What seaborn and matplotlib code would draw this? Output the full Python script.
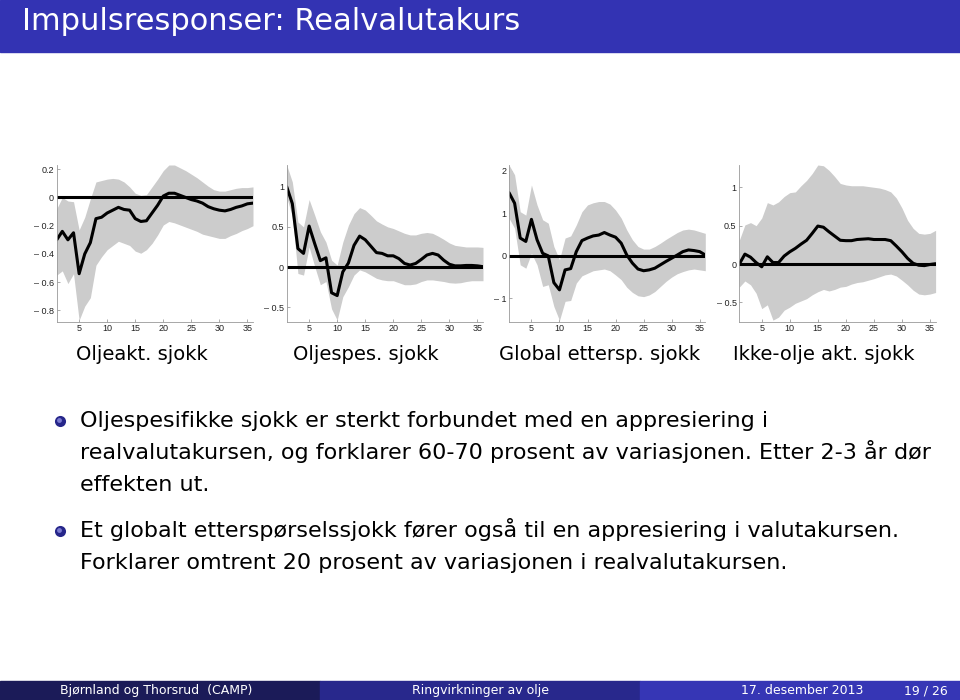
import numpy as np
import pandas as pd
import seaborn as sns
import matplotlib.pyplot as plt
from matplotlib.patches import Rectangle
from matplotlib.lines import Line2D

# %% Data (horizon 1..36)

horizon = list(range(1, 37))

olje_akt_irf = [-0.30, -0.24, -0.30, -0.25, -0.54, -0.40, -0.32, -0.15, -0.14, -0.11,
                -0.09, -0.07, -0.085, -0.09, -0.15, -0.17, -0.165, -0.11, -0.055, 0.01,
                0.03, 0.03, 0.015, 0.0, -0.015, -0.025, -0.04, -0.065, -0.08, -0.09,
                -0.095, -0.085, -0.07, -0.06, -0.045, -0.04]
olje_akt_hi = [-0.08, 0.0, -0.025, -0.03, -0.23, -0.14, -0.01, 0.11, 0.12, 0.13,
               0.135, 0.13, 0.11, 0.075, 0.03, 0.015, 0.02, 0.075, 0.13, 0.19,
               0.23, 0.23, 0.21, 0.19, 0.165, 0.14, 0.11, 0.08, 0.055, 0.045,
               0.045, 0.055, 0.065, 0.07, 0.07, 0.075]
olje_akt_lo = [-0.55, -0.52, -0.61, -0.54, -0.87, -0.77, -0.71, -0.48, -0.42, -0.37,
               -0.34, -0.31, -0.325, -0.34, -0.38, -0.395, -0.37, -0.325, -0.265, -0.195,
               -0.17, -0.18, -0.195, -0.21, -0.225, -0.24, -0.26, -0.27, -0.28, -0.29,
               -0.29, -0.27, -0.255, -0.235, -0.22, -0.20]

olje_spes_irf = [1.0, 0.79, 0.23, 0.17, 0.51, 0.29, 0.08, 0.115, -0.32, -0.355,
                 -0.06, 0.05, 0.27, 0.385, 0.34, 0.26, 0.18, 0.17, 0.14, 0.14,
                 0.105, 0.045, 0.025, 0.045, 0.095, 0.15, 0.17, 0.15, 0.085, 0.035,
                 0.015, 0.015, 0.02, 0.02, 0.015, 0.005]
olje_spes_hi = [1.27, 1.06, 0.56, 0.50, 0.84, 0.645, 0.44, 0.31, 0.085, 0.025,
                0.31, 0.52, 0.665, 0.74, 0.71, 0.645, 0.575, 0.535, 0.50, 0.48,
                0.45, 0.42, 0.40, 0.40, 0.42, 0.43, 0.42, 0.385, 0.345, 0.30,
                0.27, 0.26, 0.25, 0.25, 0.25, 0.245]
olje_spes_lo = [0.87, 0.63, -0.08, -0.10, 0.25, 0.005, -0.22, -0.18, -0.52, -0.66,
                -0.37, -0.245, -0.10, -0.035, -0.06, -0.10, -0.14, -0.16, -0.17, -0.17,
                -0.195, -0.22, -0.22, -0.21, -0.18, -0.16, -0.16, -0.17, -0.18, -0.195,
                -0.20, -0.195, -0.18, -0.17, -0.17, -0.17]

global_irf = [1.49, 1.24, 0.42, 0.34, 0.86, 0.38, 0.06, 0.0, -0.63, -0.80,
              -0.33, -0.30, 0.10, 0.36, 0.42, 0.47, 0.49, 0.55, 0.49, 0.44,
              0.30, 0.02, -0.17, -0.31, -0.35, -0.33, -0.29, -0.21, -0.13, -0.055,
              0.02, 0.10, 0.14, 0.125, 0.10, 0.02]
global_hi = [2.14, 1.91, 1.04, 0.96, 1.67, 1.20, 0.85, 0.77, 0.22, -0.09,
             0.42, 0.47, 0.73, 1.04, 1.20, 1.25, 1.28, 1.28, 1.22, 1.08,
             0.89, 0.61, 0.38, 0.22, 0.16, 0.16, 0.22, 0.30, 0.39, 0.47,
             0.55, 0.61, 0.63, 0.61, 0.57, 0.53]
global_lo = [0.89, 0.65, -0.21, -0.29, 0.06, -0.21, -0.72, -0.68, -1.19, -1.52,
             -1.07, -1.05, -0.64, -0.47, -0.41, -0.35, -0.33, -0.31, -0.35, -0.45,
             -0.56, -0.74, -0.86, -0.94, -0.96, -0.92, -0.84, -0.72, -0.60, -0.50,
             -0.42, -0.37, -0.33, -0.31, -0.33, -0.35]

ikke_olje_irf = [0.0, 0.13, 0.09, 0.02, -0.035, 0.095, 0.02, 0.02, 0.105, 0.16,
                 0.205, 0.26, 0.31, 0.40, 0.495, 0.48, 0.42, 0.365, 0.31, 0.305,
                 0.305, 0.32, 0.325, 0.33, 0.32, 0.32, 0.32, 0.305, 0.235, 0.16,
                 0.075, 0.01, -0.015, -0.02, -0.005, 0.005]
ikke_olje_hi = [0.31, 0.51, 0.54, 0.50, 0.60, 0.80, 0.77, 0.81, 0.88, 0.93,
                0.94, 1.02, 1.09, 1.18, 1.29, 1.28, 1.22, 1.14, 1.05, 1.03,
                1.02, 1.02, 1.02, 1.01, 1.0, 0.99, 0.97, 0.94, 0.86, 0.73,
                0.57, 0.465, 0.40, 0.39, 0.40, 0.44]
ikke_olje_lo = [-0.30, -0.22, -0.27, -0.38, -0.58, -0.53, -0.73, -0.69, -0.60, -0.56,
                -0.51, -0.48, -0.45, -0.40, -0.36, -0.33, -0.35, -0.33, -0.30, -0.29,
                -0.26, -0.24, -0.23, -0.21, -0.19, -0.165, -0.14, -0.13, -0.155, -0.21,
                -0.27, -0.34, -0.39, -0.40, -0.39, -0.37]

panel_titles = ['Oljeakt. sjokk', 'Oljespes. sjokk', 'Global ettersp. sjokk', 'Ikke-olje akt. sjokk']
panel_yticks = [[-0.8, -0.6, -0.4, -0.2, 0, 0.2], [-0.5, 0, 0.5, 1], [-1, 0, 1, 2], [-0.5, 0, 0.5, 1]]
panel_ylim = [(-0.88, 0.23), (-0.68, 1.27), (-1.55, 2.14), (-0.75, 1.29)]

slide_title = 'Impulsresponser: Realvalutakurs'
bullets = [
    ['Oljespesifikke sjokk er sterkt forbundet med en appresiering i',
     'realvalutakursen, og forklarer 60-70 prosent av variasjonen. Etter 2-3 år dør',
     'effekten ut.'],
    ['Et globalt etterspørselssjokk fører også til en appresiering i valutakursen.',
     'Forklarer omtrent 20 prosent av variasjonen i realvalutakursen.'],
]
footer = ['Bjørnland og Thorsrud  (CAMP)', 'Ringvirkninger av olje', '17. desember 2013', '19 / 26']

# %% Build frames

series = [(olje_akt_irf, olje_akt_lo, olje_akt_hi),
          (olje_spes_irf, olje_spes_lo, olje_spes_hi),
          (global_irf, global_lo, global_hi),
          (ikke_olje_irf, ikke_olje_lo, ikke_olje_hi)]
frames = [pd.DataFrame({'h': horizon, 'irf': s[0], 'lo': s[1], 'hi': s[2]}) for s in series]

# %% Figure

sns.set_style('ticks')
plt.rcParams['font.family'] = ['DejaVu Sans']
plt.rcParams['text.color'] = 'black'

W, H = 960, 700
fig = plt.figure(figsize=(9.6, 7), dpi=100)

def px(x, y):
    return x / W, 1 - y / H

def tick_fmt(v):
    s = f'{abs(v):g}'
    return '\u2013 ' + s if v < 0 else s

# header bar
fig.patches.append(Rectangle((0, 1 - 52 / H), 1, 52 / H, transform=fig.transFigure,
                             color='#3333B3', zorder=0))
fig.text(*px(22, 30), slide_title, color='white', fontsize=22, va='baseline', ha='left')

# panels
left_px = [56.7, 286.7, 509, 739.3]
for i, df in enumerate(frames):
    l, b = px(left_px[i], 321.7)
    ax = fig.add_axes([l, b, 196.3 / W, 156.7 / H])
    ax.fill_between(df['h'], df['lo'], df['hi'], color='#cccccc', lw=0)
    ax.axhline(0, color='black', lw=2.2)
    sns.lineplot(data=df, x='h', y='irf', ax=ax, color='black', lw=2.2)
    ax.set_xlim(1, 36)
    ax.set_ylim(*panel_ylim[i])
    ax.set_xticks([5, 10, 15, 20, 25, 30, 35])
    ax.set_yticks(panel_yticks[i])
    ax.set_yticklabels([tick_fmt(v) for v in panel_yticks[i]])
    ax.set_xlabel('')
    ax.set_ylabel('')
    ax.tick_params(labelsize=6.5, direction='in', length=2, width=0.5, colors='#888888',
                   labelcolor='#222222', pad=2)
    for t in ax.get_xticklabels() + ax.get_yticklabels():
        t.set_fontfamily('Liberation Sans')
    for side in ['top', 'right']:
        ax.spines[side].set_visible(False)
    for side in ['left', 'bottom']:
        ax.spines[side].set_color('#999999')
        ax.spines[side].set_linewidth(0.6)

caption_x = [142, 366, 600, 824]
for cx, t in zip(caption_x, panel_titles):
    fig.text(*px(cx, 360), t, fontsize=14, ha='center', va='baseline', color='black')

# bullets
line_y = [[427, 459, 491], [537, 569]]
for lines, ys in zip(bullets, line_y):
    bx, by = px(60, ys[0] - 6)
    fig.add_artist(Line2D([bx], [by], marker='o', markersize=8, color='#26268a',
                          markeredgewidth=0, transform=fig.transFigure))
    fig.add_artist(Line2D([bx - 1.2 / W], [by + 1.2 / H], marker='o', markersize=3.5,
                          color='#7a7ad0', markeredgewidth=0, transform=fig.transFigure))
    for t, y in zip(lines, ys):
        fig.text(*px(80, y), t, fontsize=16, ha='left', va='baseline', color='black')

# footer
footer_cols = ['#1b1b58', '#28288c', '#3636b5']
for k, c in enumerate(footer_cols):
    fig.patches.append(Rectangle((k / 3, 0), 1 / 3, 19 / H, transform=fig.transFigure,
                                 color=c, zorder=0))
fig.text(*px(156, 694), footer[0], color='white', fontsize=9, ha='center', va='baseline')
fig.text(*px(480, 694), footer[1], color='white', fontsize=9, ha='center', va='baseline')
fig.text(*px(863, 694), footer[2], color='white', fontsize=9, ha='right', va='baseline')
fig.text(*px(948, 694), footer[3], color='white', fontsize=9, ha='right', va='baseline')

fig.savefig('out.png', dpi=100)
